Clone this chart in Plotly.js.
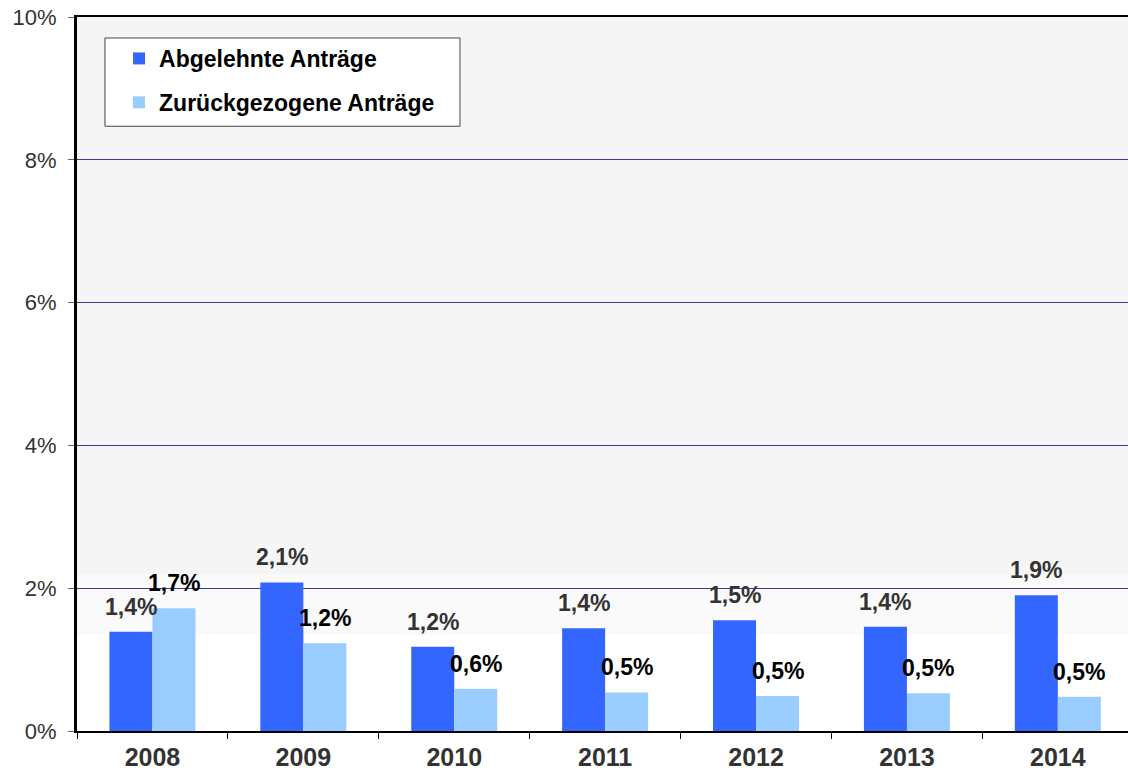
<!DOCTYPE html>
<html>
<head>
<meta charset="utf-8">
<script src="https://cdn.plot.ly/plotly-3.0.1.min.js"></script>
<style>html,body{margin:0;padding:0;background:#fff;}#chart{width:1128px;height:773px;}</style>
</head>
<body>
<div id="chart"></div>
<script>
const years = ['2008','2009','2010','2011','2012','2013','2014'];
const abgelehnt = [1.39, 2.08, 1.18, 1.44, 1.55, 1.46, 1.90];
const zurueck = [1.72, 1.23, 0.59, 0.54, 0.49, 0.53, 0.48];
const abgelehntLabels = ['1,4%','2,1%','1,2%','1,4%','1,5%','1,4%','1,9%'];
const zurueckLabels = ['1,7%','1,2%','0,6%','0,5%','0,5%','0,5%','0,5%'];
const yTickVals = [0,2,4,6,8,10];
const yTickText = ['0%','2%','4%','6%','8%','10%'];

const FONT = 'Arial, "Liberation Sans", sans-serif';

const traces = [
  {type:'bar', name:'Abgelehnte Anträge', legendgroup:'a', x:years, y:abgelehnt, marker:{color:'#3366ff'}, hoverinfo:'skip'},
  {type:'bar', name:'Zurückgezogene Anträge', legendgroup:'b', x:years, y:zurueck, marker:{color:'#99ccff'}, hoverinfo:'skip'}
];

const annotations = [];
years.forEach((yr,i)=>{
  annotations.push({x:i, y:abgelehnt[i], xref:'x', yref:'y', text:abgelehntLabels[i], showarrow:false,
    xshift:-21.5, yshift:25, font:{family:FONT, size:23, color:'#333333', weight:700}});
  annotations.push({x:i, y:zurueck[i], xref:'x', yref:'y', text:zurueckLabels[i], showarrow:false,
    xshift:21.5, yshift:25, font:{family:FONT, size:23, color:'#000000', weight:700}});
});

const layout = {
  width:1128, height:773,
  margin:{l:77, r:0, t:17, b:42},
  paper_bgcolor:'#ffffff',
  plot_bgcolor:'#f5f5f5',
  barmode:'group',
  bargap:0.43,
  bargroupgap:0,
  font:{family:FONT, color:'#333333'},
  showlegend:true,
  legend:{x:0.04, y:0.972, xanchor:'left', yanchor:'top', bgcolor:'rgba(0,0,0,0)', borderwidth:0,
    font:{family:FONT, size:23, color:'#000000', weight:700}, tracegroupgap:11, itemwidth:30, traceorder:'grouped'},
  xaxis:{type:'category', range:[-0.5,6.465], showline:true, linecolor:'#000000', linewidth:2, mirror:true,
    ticks:'outside', tickson:'boundaries', ticklen:6, tickcolor:'#000000', showgrid:false,
    ticklabelstandoff:3,
    tickfont:{family:FONT, size:25, color:'#333333', weight:700}},
  yaxis:{range:[0,10], tickvals:yTickVals, ticktext:yTickText, showline:true, linecolor:'#000000', linewidth:3,
    ticks:'outside', ticklen:6, tickcolor:'#666666', showgrid:true, gridcolor:'#3a3a9c', gridwidth:1,
    ticklabelstandoff:7,
    zeroline:false, tickfont:{family:FONT, size:22, color:'#333333'}},
  shapes:[
    {type:'rect', xref:'paper', yref:'y', x0:0, x1:1, y0:0, y1:1.35, fillcolor:'#ffffff', line:{width:0}, layer:'below'},
    {type:'rect', xref:'paper', yref:'y', x0:0, x1:1, y0:1.35, y1:2.2, fillcolor:'#fafafa', line:{width:0}, layer:'below'},
    {type:'rect', xref:'paper', yref:'paper', x0:0.0266, x1:0.3644, y0:0.847, y1:0.9706, fillcolor:'#ffffff', line:{color:'#444444', width:1}, layer:'above'}
  ],
  annotations:annotations
};

Plotly.newPlot('chart', traces, layout, {displayModeBar:false, staticPlot:true});
</script>
</body>
</html>
